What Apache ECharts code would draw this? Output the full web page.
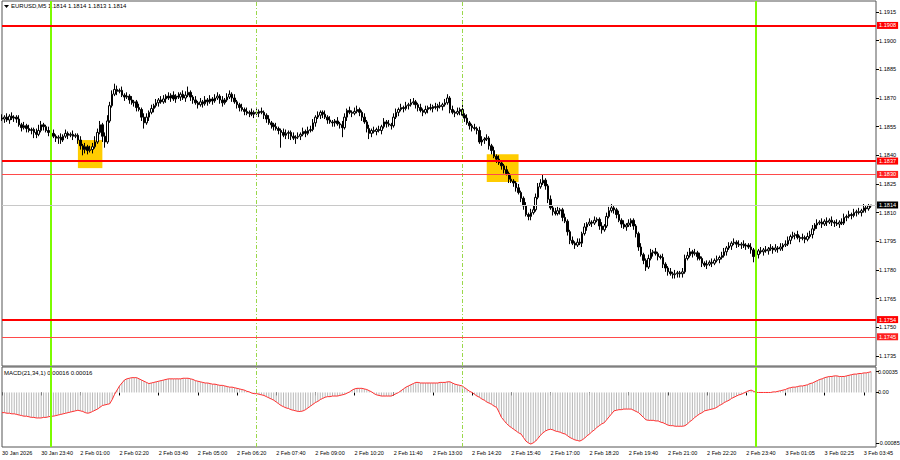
<!DOCTYPE html>
<html><head><meta charset="utf-8">
<script src="https://cdn.jsdelivr.net/npm/echarts@6/dist/echarts.min.js"></script>
<style>html,body{margin:0;padding:0;background:#fff}#c{width:900px;height:460px}</style>
</head><body><div id="c"></div>
<script>
// ---- data ----
const symbolTitle = 'EURUSD,M5';
const lastOHLC = '1.1814 1.1814 1.1813 1.1814';
const macdTitle = 'MACD(21,34,1) 0.00016 0.00016';
const firstOpen = 1.18595;
const closes = [
1.18590,1.18600,1.18585,1.18605,1.18595,1.18600,1.18590,1.18560,1.18545,1.18555,
1.18540,1.18530,1.18535,1.18520,1.18510,1.18530,1.18560,1.18550,1.18530,1.18520,
1.18515,1.18500,1.18490,1.18495,1.18480,1.18500,1.18515,1.18505,1.18510,1.18500,
1.18505,1.18480,1.18450,1.18430,1.18445,1.18425,1.18430,1.18445,1.18470,1.18520,
1.18560,1.18500,1.18470,1.18580,1.18660,1.18720,1.18745,1.18735,1.18740,1.18715,
1.18705,1.18710,1.18690,1.18675,1.18680,1.18650,1.18640,1.18600,1.18570,1.18600,
1.18625,1.18645,1.18660,1.18675,1.18690,1.18680,1.18695,1.18710,1.18700,1.18715,
1.18695,1.18710,1.18705,1.18720,1.18700,1.18715,1.18730,1.18705,1.18690,1.18675,
1.18665,1.18680,1.18670,1.18690,1.18680,1.18695,1.18685,1.18700,1.18710,1.18690,
1.18675,1.18690,1.18705,1.18720,1.18700,1.18680,1.18665,1.18650,1.18640,1.18630,
1.18620,1.18625,1.18615,1.18625,1.18620,1.18630,1.18625,1.18610,1.18590,1.18570,
1.18560,1.18550,1.18540,1.18530,1.18520,1.18505,1.18515,1.18520,1.18500,1.18490,
1.18495,1.18500,1.18510,1.18525,1.18515,1.18530,1.18535,1.18570,1.18600,1.18610,
1.18625,1.18615,1.18600,1.18585,1.18575,1.18570,1.18580,1.18565,1.18560,1.18545,
1.18600,1.18635,1.18625,1.18620,1.18630,1.18640,1.18625,1.18600,1.18575,1.18540,
1.18515,1.18530,1.18525,1.18535,1.18530,1.18550,1.18575,1.18565,1.18560,1.18555,
1.18600,1.18625,1.18640,1.18650,1.18645,1.18660,1.18665,1.18675,1.18680,1.18665,
1.18650,1.18635,1.18625,1.18640,1.18650,1.18645,1.18655,1.18650,1.18660,1.18655,
1.18665,1.18675,1.18700,1.18640,1.18625,1.18620,1.18630,1.18640,1.18610,1.18595,
1.18570,1.18555,1.18545,1.18540,1.18530,1.18470,1.18480,1.18485,1.18490,1.18450,
1.18425,1.18395,1.18380,1.18360,1.18345,1.18325,1.18305,1.18275,1.18265,1.18255,
1.18230,1.18205,1.18175,1.18135,1.18090,1.18080,1.18100,1.18115,1.18180,1.18235,
1.18255,1.18270,1.18240,1.18170,1.18125,1.18105,1.18095,1.18110,1.18115,1.18075,
1.18055,1.18000,1.17955,1.17940,1.17930,1.17945,1.17940,1.17990,1.18025,1.18040,
1.18050,1.18045,1.18060,1.18065,1.18030,1.18010,1.18030,1.18080,1.18110,1.18125,
1.18115,1.18090,1.18060,1.18040,1.18025,1.18035,1.18045,1.18060,1.18030,1.17990,
1.17920,1.17880,1.17850,1.17815,1.17860,1.17890,1.17895,1.17885,1.17870,1.17865,
1.17830,1.17810,1.17790,1.17780,1.17775,1.17780,1.17785,1.17780,1.17790,1.17860,
1.17875,1.17895,1.17885,1.17890,1.17870,1.17860,1.17835,1.17825,1.17830,1.17840,
1.17835,1.17850,1.17855,1.17865,1.17875,1.17895,1.17915,1.17925,1.17940,1.17945,
1.17935,1.17930,1.17935,1.17925,1.17930,1.17920,1.17905,1.17870,1.17880,1.17900,
1.17895,1.17905,1.17900,1.17910,1.17915,1.17905,1.17915,1.17910,1.17920,1.17930,
1.17935,1.17955,1.17975,1.17980,1.17985,1.17970,1.17965,1.17970,1.17960,1.17975,
1.17985,1.18015,1.18035,1.18045,1.18050,1.18040,1.18055,1.18050,1.18060,1.18050,
1.18045,1.18040,1.18050,1.18045,1.18075,1.18080,1.18090,1.18085,1.18100,1.18105,
1.18100,1.18110,1.18125,1.18120,1.18135,1.18140];
// wick lengths above / below the body, in pips (0.0001)
const upperWick = [
2,1,2,1,2,1,1,2,1,2,1,2,1,1,2,3,2,1,1,2,
1,2,1,1,2,1,2,1,1,2,1,1,2,1,2,1,2,2,3,2,
2,1,2,3,2,2,3,2,1,2,1,2,1,2,1,1,2,1,2,2,
1,2,1,2,1,2,2,1,2,1,2,1,2,1,2,2,3,1,1,2,
1,2,1,2,1,2,1,2,2,1,2,1,2,2,1,2,1,1,2,1,
2,1,2,1,2,1,2,1,1,2,1,1,2,1,1,2,2,1,1,2,
1,2,1,2,1,2,2,2,1,2,1,1,2,1,2,1,1,2,1,2,
2,1,2,1,2,2,1,1,2,1,2,1,2,1,2,1,2,1,2,1,
2,2,1,2,1,2,1,2,2,1,1,2,1,2,1,2,1,2,1,2,
1,2,2,1,2,1,2,1,5,1,2,1,1,2,1,2,2,1,2,1,
1,2,1,2,1,1,2,1,2,1,1,2,1,1,2,1,2,2,2,2,
2,3,1,1,2,1,2,2,1,1,2,1,1,2,1,2,2,1,2,1,
2,1,2,1,1,2,1,2,2,2,1,1,2,1,2,1,2,1,1,1,
1,2,1,1,2,2,1,2,1,1,2,1,1,2,1,2,1,1,2,2,
2,2,1,2,1,2,1,1,2,1,2,1,2,1,2,2,1,2,1,2,
1,2,1,2,1,1,2,1,2,1,2,1,2,1,2,1,2,1,2,1,
2,2,1,2,1,2,1,2,1,2,2,2,1,2,1,2,1,2,1,2,
1,2,1,2,2,1,2,1,2,1,2,1,2,1,1,0];
const lowerWick = [
1,2,1,2,1,2,2,1,2,1,2,1,2,3,2,1,1,2,1,2,
2,1,2,3,2,1,1,2,1,2,1,2,2,3,2,2,1,2,1,1,
1,3,3,1,1,1,1,2,1,1,2,1,2,1,2,2,1,2,3,1,
2,1,2,1,2,1,1,2,1,2,1,2,1,2,1,2,1,2,2,1,
2,1,2,1,2,1,2,1,1,2,2,1,1,1,2,1,2,2,1,2,
1,2,1,2,1,2,1,2,2,1,2,2,1,2,8,1,2,3,2,1,
3,1,2,1,2,1,1,1,2,1,2,2,1,2,1,2,2,1,2,5,
1,2,1,2,1,1,2,2,1,2,3,2,1,2,1,2,1,2,1,2,
1,1,2,1,2,1,2,1,1,2,2,1,2,1,2,1,2,1,2,1,
2,1,1,2,1,2,1,2,1,2,1,2,2,1,2,1,2,2,1,2,
2,1,2,1,2,2,1,2,1,2,2,1,2,2,1,2,2,1,1,1,
1,1,2,2,1,2,1,1,2,2,1,2,2,1,2,1,1,2,1,2,
1,2,1,1,2,2,1,1,1,1,2,2,1,2,1,2,1,2,2,2,
2,1,2,2,1,1,2,1,2,1,2,2,2,1,2,2,2,2,2,1,
1,1,2,1,2,1,2,1,2,1,2,1,1,2,1,1,2,1,2,1,
2,1,2,1,2,1,2,3,1,2,1,2,1,2,1,2,1,2,1,2,
1,1,2,1,2,1,2,1,2,1,1,2,1,2,1,2,1,2,1,2,
2,1,2,1,1,2,1,2,1,2,1,2,1,2,1,1];
// MACD main value per bar, in units of 0.00001
const macdPoints = [
-34,-34,-35,-35,-36,-36,-37,-38,-39,-40,
-40,-41,-42,-42,-43,-43,-43,-42,-42,-41,
-40,-40,-39,-38,-37,-36,-35,-34,-33,-32,
-31,-30,-31,-32,-34,-35,-34,-32,-30,-28,
-25,-22,-21,-20,-19,-12,-3,4,11,16,
21,23,24,25,25,25,23,21,19,17,
15,16,17,18,19,20,21,22,23,23,
23,23,23,23,24,24,24,23,22,20,
19,18,17,16,16,15,14,14,13,12,
12,11,10,9,9,8,7,6,5,4,
2,1,-1,-2,-2,-3,-4,-5,-7,-9,
-11,-13,-16,-19,-22,-24,-26,-27,-29,-30,
-31,-32,-32,-31,-29,-26,-23,-20,-17,-15,
-12,-10,-8,-7,-7,-6,-6,-6,-5,-4,
-3,-1,1,4,6,7,7,7,6,5,
3,1,-2,-4,-5,-6,-6,-6,-6,-6,
-4,-2,0,3,6,9,11,13,15,17,
17,16,16,16,16,16,16,16,16,17,
17,17,18,18,16,14,13,12,11,8,
5,2,0,-3,-6,-8,-11,-13,-16,-18,
-20,-23,-25,-33,-42,-47,-52,-56,-59,-62,
-65,-68,-70,-76,-82,-85,-87,-85,-82,-77,
-72,-68,-65,-63,-62,-63,-65,-66,-67,-69,
-70,-73,-76,-78,-80,-81,-82,-80,-77,-73,
-70,-66,-63,-59,-56,-53,-51,-46,-41,-36,
-31,-30,-29,-29,-28,-28,-28,-28,-30,-32,
-34,-38,-42,-46,-47,-47,-47,-48,-48,-50,
-51,-53,-55,-56,-56,-57,-57,-57,-57,-56,
-53,-49,-46,-42,-39,-36,-34,-31,-30,-29,
-28,-27,-25,-22,-20,-17,-15,-13,-10,-8,
-6,-4,-3,-1,1,3,4,2,0,0,
0,0,0,0,0,1,1,2,3,4,
5,7,8,9,9,10,11,11,12,13,
15,16,18,20,22,23,25,26,27,27,
28,28,27,27,27,28,29,30,31,31,
32,32,33,33,34,35];
const tickLabels = ['30 Jan 2026','30 Jan 23:40','2 Feb 01:00','2 Feb 02:20','2 Feb 03:40','2 Feb 05:00',
 '2 Feb 06:20','2 Feb 07:40','2 Feb 09:00','2 Feb 10:20','2 Feb 11:40','2 Feb 13:00','2 Feb 14:20',
 '2 Feb 15:40','2 Feb 17:00','2 Feb 18:20','2 Feb 19:40','2 Feb 21:00','2 Feb 22:20','2 Feb 23:40',
 '3 Feb 01:05','3 Feb 02:25','3 Feb 03:45'];
const barsPerTick = 16;
const priceTicks = [1.1735,1.1750,1.1765,1.1780,1.1795,1.1810,1.1825,1.1840,1.1855,1.1870,1.1885,1.1900,1.1915];
const macdTicks = [0.00035, 0, -0.00085];
const macdTickLabels = ['0.00035','0.00','-0.00085'];
const strongLevels = [1.1908, 1.1837, 1.1754];
const weakLevels = [1.1830, 1.1745];
const currentPrice = 1.1814;
const daySeparators = [20, 308];   // bar indexes
const sessionLines = [104, 188];   // bar indexes
const boxes = [[31, 41, 1.18480, 1.18333], [198, 211, 1.18406, 1.18260]]; // [fromBar,toBar,top,bottom]

// ---- build ----
const PIP = 0.0001;
const N = closes.length + 2;
const cats = Array.from({length: N}, (_, i) => String(i));
const ohlc = closes.map((c, i) => {
  const o = i ? closes[i - 1] : firstOpen;
  return [o, c, Math.min(o, c) - lowerWick[i] * PIP, Math.max(o, c) + upperWick[i] * PIP];
});
const macd = macdPoints.map(v => v / 100000);
const FONT = 'Liberation Sans';

const vLines = daySeparators.map(x => ({xAxis: x, lineStyle: {color: '#7cfc00', width: 2, type: 'solid'}}))
  .concat(sessionLines.map(x => ({xAxis: x, lineStyle: {color: '#9ad84a', width: 1, type: [4, 2, 1, 2]}})));

function levelLine(v, strong) {
  return {yAxis: v, lineStyle: {color: strong ? '#ff0000' : '#ff4a4a', width: strong ? 2 : 1, type: 'solid'},
    label: {show: true, position: 'end', distance: 1, formatter: v.toFixed(4), color: '#fff',
      backgroundColor: strong ? '#ff0000' : '#ff2020', padding: [1, 2, 0, 2], fontSize: 5.6, fontFamily: FONT}};
}
const levelData = [{yAxis: currentPrice, lineStyle: {color: '#c8c8c8', width: 1, type: 'solid'},
  label: {show: true, position: 'end', distance: 1, formatter: currentPrice.toFixed(4), color: '#fff',
    backgroundColor: '#000', padding: [1, 2, 0, 2], fontSize: 5.6, fontFamily: FONT}}]
  .concat(weakLevels.map(v => levelLine(v, false)))
  .concat(strongLevels.map(v => levelLine(v, true)));

const chart = echarts.init(document.getElementById('c'), null, {renderer: 'svg'});
chart.setOption({
  animation: false,
  backgroundColor: '#fff',
  grid: [
    {left: 2, top: 1, width: 874, height: 365, show: true, borderColor: '#555', borderWidth: 1, outerBoundsMode: 'none', containLabel: false},
    {left: 2, top: 367, width: 874, height: 80, show: true, borderColor: '#555', borderWidth: 1, outerBoundsMode: 'none', containLabel: false}
  ],
  xAxis: [
    {type: 'category', gridIndex: 0, data: cats, boundaryGap: false, show: false},
    {type: 'category', gridIndex: 1, data: cats, boundaryGap: false,
      axisLine: {show: false}, splitLine: {show: false},
      axisTick: {show: true, interval: barsPerTick - 1, length: 3, lineStyle: {color: '#000'}},
      axisLabel: {interval: barsPerTick - 1, align: 'left', margin: 3, fontSize: 5.5, fontFamily: FONT, color: '#000',
        formatter: (v, i) => tickLabels[i / barsPerTick] || ''}}
  ],
  yAxis: [
    {type: 'value', gridIndex: 0, position: 'right', min: 1.17297, max: 1.19208,
      splitLine: {show: false}, axisLine: {show: false},
      axisTick: {show: true, length: 3, customValues: priceTicks, lineStyle: {color: '#000'}},
      axisLabel: {customValues: priceTicks, formatter: v => v.toFixed(4), fontSize: 5.6, margin: 3, color: '#000', fontFamily: FONT}},
    {type: 'value', gridIndex: 1, position: 'right', min: -0.00092, max: 0.00043,
      splitLine: {show: false}, axisLine: {show: false},
      axisTick: {show: true, length: 3, customValues: macdTicks, lineStyle: {color: '#000'}},
      axisLabel: {customValues: macdTicks, fontSize: 5.5, margin: 2, color: '#000', fontFamily: FONT,
        formatter: v => macdTickLabels[macdTicks.findIndex(t => Math.abs(t - v) < 1e-9)] || ''}}
  ],
  series: [
    {type: 'line', xAxisIndex: 0, yAxisIndex: 0, data: [], z: 1, silent: true,
      markArea: {silent: true, itemStyle: {color: '#ffcc00', opacity: 1},
        data: boxes.map(b => [{xAxis: b[0], yAxis: b[2]}, {xAxis: b[1], yAxis: b[3]}])}},
    {type: 'line', xAxisIndex: 0, yAxisIndex: 0, data: [], z: 2, silent: true,
      markLine: {symbol: 'none', silent: true, animation: false, precision: 5, label: {show: false}, data: vLines}},
    {type: 'candlestick', xAxisIndex: 0, yAxisIndex: 0, data: ohlc, z: 3, barWidth: 2, silent: true,
      itemStyle: {color: '#ffffff', color0: '#000000', borderColor: '#000000', borderColor0: '#000000', borderWidth: 1}},
    {type: 'line', xAxisIndex: 0, yAxisIndex: 0, data: [], z: 5, silent: true,
      markLine: {symbol: 'none', silent: true, animation: false, precision: 5, data: levelData}},
    {type: 'custom', xAxisIndex: 1, yAxisIndex: 1, silent: true, z: 1,
      data: macd.map((v, i) => [i, v]),
      encode: {x: 0, y: 1},
      renderItem: (params, api) => {
        const p0 = api.coord([api.value(0), 0]);
        const p1 = api.coord([api.value(0), api.value(1)]);
        return {type: 'line', shape: {x1: p0[0], y1: p0[1], x2: p1[0], y2: p1[1]},
          style: {stroke: '#b8b8b8', lineWidth: 1}};
      }},
    {type: 'line', xAxisIndex: 1, yAxisIndex: 1, data: [], z: 2, silent: true,
      markLine: {symbol: 'none', silent: true, animation: false, precision: 5, label: {show: false}, data: vLines}},
    {type: 'line', xAxisIndex: 1, yAxisIndex: 1, data: macd, symbol: 'none', z: 4, silent: true,
      lineStyle: {color: '#ff3030', width: 1}}
  ],
  graphic: [
    {type: 'polygon', shape: {points: [[4, 5], [9, 5], [6.5, 8]]}, style: {fill: '#000'}},
    {type: 'text', left: 11, top: 3, style: {text: symbolTitle + ' ' + lastOHLC, font: '6px "Liberation Sans"', fill: '#000'}},
    {type: 'text', left: 4, top: 370, style: {text: macdTitle, font: '6px "Liberation Sans"', fill: '#000'}}
  ]
});
</script></body></html>
